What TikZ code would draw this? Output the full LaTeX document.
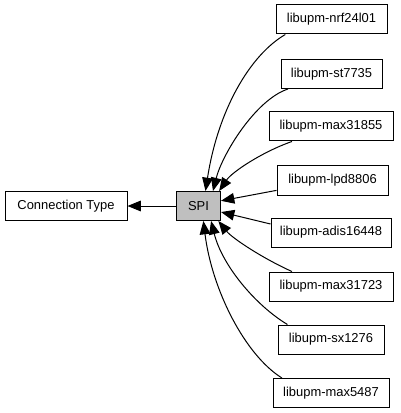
\documentclass[tikz,border=0pt]{standalone}
\usepackage{fontspec}
\setmainfont{Liberation Sans}
\usetikzlibrary{arrows.meta}
\begin{document}
\begin{tikzpicture}[x=0.75pt,y=-0.75pt,
  box/.style={draw, line width=0.75pt, minimum height=21.75pt, inner sep=0pt,
    font=\fontsize{9.7}{11}\selectfont, fill=white},
  edge/.style={line width=0.75pt, -{Triangle[length=10pt,width=8pt]}}]
\useasboundingbox (0,0) rectangle (400,413);
\node[box, minimum width=91.5pt] (ct) at (66,206) {Connection Type};
\node[box, minimum width=33pt, fill=black!25] (spi) at (198.5,206) {SPI};
\node[box, minimum width=83.25pt] (nrf) at (331.5,19.5) {libupm-nrf24l01};
\node[box, minimum width=75.75pt] (st) at (331.5,74) {libupm-st7735};
\node[box, minimum width=93pt] (m855) at (331,126.5) {libupm-max31855};
\node[box, minimum width=83.25pt] (lpd) at (332.5,180.5) {libupm-lpd8806};
\node[box, minimum width=90pt] (adis) at (331,232.5) {libupm-adis16448};
\node[box, minimum width=93pt] (m723) at (331,286.5) {libupm-max31723};
\node[box, minimum width=79.5pt] (sx) at (331,339.5) {libupm-sx1276};
\node[box, minimum width=87pt] (m487) at (331,393) {libupm-max5487};

\draw[edge] (spi) -- (ct);
\draw[edge] (nrf.198) .. controls (250,55) and (218,110) .. (spi.65);
\draw[edge] (st.199.5) .. controls (255,100) and (222,155) .. (spi.46);
\draw[edge] (m855.201) .. controls (262,152) and (232,172) .. (spi.36);
\draw[edge] (lpd.190) -- (spi.13);
\draw[edge] (adis.172) -- (spi.-15.6);
\draw[edge] (m723.159) .. controls (262,258) and (232,238) .. (spi.-37);
\draw[edge] (sx.161) .. controls (255,305) and (222,265) .. (spi.-50.6);
\draw[edge] (m487.163) .. controls (245,355) and (212,290) .. (spi.-72);
\end{tikzpicture}
\end{document}
